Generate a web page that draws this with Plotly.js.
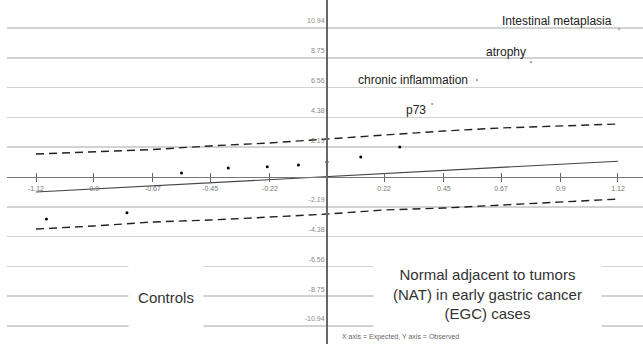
<!DOCTYPE html>
<html>
<head>
<meta charset="utf-8">
<script src="https://cdn.plot.ly/plotly-3.0.1.min.js"></script>
<style>html,body{margin:0;padding:0;background:#fff;}#chart{width:643px;height:344px;}</style>
</head>
<body>
<div id="chart"></div>
<script>
// Observed vs expected values
const obsX = [-1.08, -0.77, -0.56, -0.38, -0.23, -0.11, 0.00, 0.13, 0.28];
const obsY = [-3.08, -2.62, 0.29, 0.66, 0.76, 0.88, 1.10, 1.47, 2.20];
const labelNames = ["p73", "chronic inflammation", "atrophy", "Intestinal metaplasia"];
const labelX = [0.405, 0.577, 0.785, 1.124];
const labelY = [5.36, 7.12, 8.45, 10.87];
// Expected line
const expX = [-1.12, 1.12];
const expY = [-1.10, 1.16];
// Confidence band
const bandX = [-1.12, -0.9, -0.67, -0.45, -0.22, 0, 0.22, 0.45, 0.67, 0.9, 1.12];
const upperY = [1.69, 1.84, 2.02, 2.28, 2.50, 2.79, 3.08, 3.38, 3.60, 3.74, 3.89];
const lowerY = [-3.82, -3.60, -3.30, -3.16, -2.94, -2.72, -2.42, -2.28, -2.06, -1.84, -1.62];
// Tick labels
const xTicks = [-1.12, -0.9, -0.67, -0.45, -0.22, 0.22, 0.45, 0.67, 0.9, 1.12];
const yTicks = [10.94, 8.75, 6.56, 4.38, 2.19, -2.19, -4.38, -6.56, -8.75, -10.94];
// Panel captions
const leftCaption = "Controls";
const rightCaption = "Normal adjacent to tumors<br>(NAT) in early gastric cancer<br>(EGC) cases";
const axisNote = "X axis = Expected, Y axis = Observed";

const FONT = "Arial, 'Liberation Sans', sans-serif";

const traces = [
  {x: bandX, y: upperY, mode: 'lines', line: {color: '#222', width: 1.4, dash: '8px,5px'}, hoverinfo: 'skip'},
  {x: bandX, y: lowerY, mode: 'lines', line: {color: '#222', width: 1.4, dash: '8px,5px'}, hoverinfo: 'skip'},
  {x: expX, y: expY, mode: 'lines', line: {color: '#444', width: 1.1}, hoverinfo: 'skip'},
  {x: obsX, y: obsY, mode: 'markers', marker: {color: '#000', size: 3}},
  {x: labelX, y: labelY, mode: 'markers', marker: {color: '#aaa', size: 2.5}, text: labelNames},
  {x: [0], y: [0], xaxis: 'x2', mode: 'markers', marker: {opacity: 0}, hoverinfo: 'skip'}
];

const shifts = [[-4, -6], [-7, 0], [-3, 10], [-5, 8]];
const annotations = labelNames.map((t, i) => ({
  x: labelX[i], y: labelY[i], xref: 'x', yref: 'y', text: t, showarrow: false,
  xanchor: 'right', yanchor: 'middle', xshift: shifts[i][0], yshift: shifts[i][1],
  font: {family: FONT, size: 12, color: '#222'}
}));
annotations.push({
  x: -0.62, y: -8.8, xref: 'x', yref: 'y', text: leftCaption, showarrow: false,
  bgcolor: '#fff', width: 72, height: 66, font: {family: FONT, size: 15, color: '#333'}
});
annotations.push({
  x: 0.618, y: -8.62, xref: 'x', yref: 'y', text: rightCaption, showarrow: false,
  bgcolor: '#fff', width: 225, height: 66, font: {family: FONT, size: 15, color: '#333'}
});
annotations.push({
  x: 0.5236, y: 0.02, xref: 'paper', yref: 'paper', text: axisNote, showarrow: false,
  xanchor: 'left', yanchor: 'middle', font: {family: FONT, size: 7, color: '#666'}
});

const xRange = [-1.2317, 1.2163];
const layout = {
  width: 643, height: 344,
  margin: {l: 7, r: 0, t: 0, b: 0, pad: 0},
  paper_bgcolor: '#fff', plot_bgcolor: '#fff',
  showlegend: false,
  xaxis: {
    range: xRange, anchor: 'free', position: 0.4855,
    showgrid: false, zeroline: false,
    showline: true, linecolor: '#777', linewidth: 1.5,
    tickmode: 'array', tickvals: xTicks, ticktext: xTicks.map(String),
    ticks: 'outside', ticklen: 4, tickwidth: 1, tickcolor: '#666',
    tickfont: {family: FONT, size: 7, color: '#777'}
  },
  xaxis2: {
    range: xRange, overlaying: 'x', anchor: 'free', position: 0.4855,
    showgrid: false, zeroline: false, showline: false,
    tickmode: 'array', tickvals: xTicks, showticklabels: false,
    ticks: 'inside', ticklen: 4, tickwidth: 1, tickcolor: '#666'
  },
  yaxis: {
    range: [-12.261, 12.996], anchor: 'free', position: 0.5031,
    showgrid: true, gridcolor: '#d2d2d2', gridwidth: 1.5,
    zeroline: false, showline: true, linecolor: '#666', linewidth: 2,
    tickmode: 'array', tickvals: yTicks, ticktext: yTicks.map(String),
    ticks: '', ticklabelshift: -7,
    tickfont: {family: FONT, size: 7, color: '#888'}
  },
  annotations: annotations
};

Plotly.newPlot('chart', traces, layout, {displayModeBar: false, staticPlot: true});
</script>
</body>
</html>
